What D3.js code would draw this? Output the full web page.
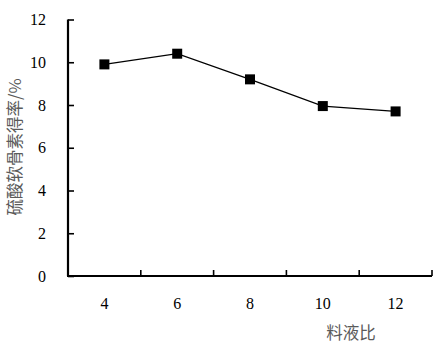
<!DOCTYPE html>
<html>
<head>
<meta charset="utf-8">
<script src="https://cdn.jsdelivr.net/npm/d3@7"></script>
<style>
  body { margin: 0; background: #fff; }
  .num { font-family: "Liberation Serif", "Times New Roman", "DejaVu Serif", serif; font-size: 16px; fill: #000; }
  .cjk { font-family: "Noto Sans CJK SC", sans-serif; fill: #5a5a5a; }
</style>
</head>
<body>
<svg id="chart" width="441" height="347"></svg>
<script>
// Data
var ratios = ["4", "6", "8", "10", "12"];
var yields = [9.9, 10.4, 9.2, 7.95, 7.7];
var yTicks = [0, 2, 4, 6, 8, 10, 12];

var margin = { left: 68, right: 9, top: 19.5, bottom: 71 };
var width = 441, height = 347;

var svg = d3.select("#chart");

var x = d3
  .scaleBand()
  .domain(ratios)
  .range([margin.left, width - margin.right]);

var y = d3
  .scaleLinear()
  .domain([0, 12])
  .range([height - margin.bottom, margin.top]);

// Y axis
var yAxis = svg
  .append("g")
  .attr("transform", "translate(" + margin.left + ",0)")
  .call(d3.axisLeft(y).tickValues(yTicks).tickSize(-6).tickPadding(22));
yAxis.attr("font-family", null).attr("font-size", null);
yAxis.select(".domain").attr("stroke-width", 2.2).attr("d",
  "M0," + y(12) + "V" + y(0));
yAxis.selectAll(".tick line").attr("stroke-width", 1.6);
yAxis.selectAll("text").attr("class", "num").attr("fill", null);

// X axis: ticks between categories
var xAxis = svg
  .append("g")
  .attr("transform", "translate(0," + y(0) + ")");
xAxis
  .append("line")
  .attr("x1", margin.left - 1)
  .attr("x2", width - margin.right)
  .attr("stroke", "#000")
  .attr("stroke-width", 2.2);
xAxis
  .selectAll(".sep")
  .data(ratios)
  .enter()
  .append("line")
  .attr("x1", (d) => x(d) + x.bandwidth())
  .attr("x2", (d) => x(d) + x.bandwidth())
  .attr("y1", 0)
  .attr("y2", -6)
  .attr("stroke", "#000")
  .attr("stroke-width", 1.6);
xAxis
  .selectAll(".lbl")
  .data(ratios)
  .enter()
  .append("text")
  .attr("class", "num")
  .attr("x", (d) => x(d) + x.bandwidth() / 2)
  .attr("y", 33)
  .attr("text-anchor", "middle")
  .text((d) => d);

// Axis titles
svg
  .append("text")
  .attr("class", "cjk")
  .attr("x", 351)
  .attr("y", 339)
  .attr("text-anchor", "middle")
  .attr("font-size", 16.5)
  .text("料液比");

svg
  .append("text")
  .attr("class", "cjk")
  .attr("transform", "translate(21,147) rotate(-90)")
  .attr("text-anchor", "middle")
  .attr("font-size", 16.5)
  .text("硫酸软骨素得率/%");

// Line
var line = d3
  .line()
  .x((d, i) => x(ratios[i]) + x.bandwidth() / 2)
  .y((d) => y(d));

svg
  .append("path")
  .attr("d", line(yields))
  .attr("fill", "none")
  .attr("stroke", "#000")
  .attr("stroke-width", 1.2);

// Markers
svg
  .selectAll(".pt")
  .data(yields)
  .enter()
  .append("rect")
  .attr("x", (d, i) => x(ratios[i]) + x.bandwidth() / 2 - 5)
  .attr("y", (d) => y(d) - 5)
  .attr("width", 10)
  .attr("height", 10)
  .attr("fill", "#000");
</script>
</body>
</html>
